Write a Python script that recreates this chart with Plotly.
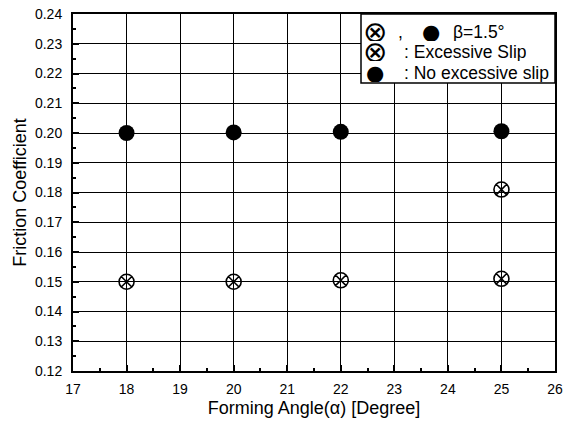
import plotly.graph_objects as go

angles_slip = [18, 20, 22, 25, 25]
coef_slip = [0.150, 0.150, 0.1505, 0.151, 0.181]
angles_noslip = [18, 20, 22, 25]
coef_noslip = [0.200, 0.2002, 0.2004, 0.2006]

x_ticks = list(range(17, 27))
y_ticks = [round(0.12 + 0.01 * i, 2) for i in range(13)]

legend_header = "β=1.5°"
legend_labels = [": Excessive Slip", ": No excessive slip"]

fig = go.Figure()
fig.add_trace(go.Scatter(
    x=angles_slip, y=coef_slip, mode="markers", name=legend_labels[0],
    marker=dict(symbol="circle-x-open", size=15, color="black", line=dict(width=1.6, color="black")),
))
fig.add_trace(go.Scatter(
    x=angles_noslip, y=coef_noslip, mode="markers", name=legend_labels[1],
    marker=dict(symbol="circle", size=16, color="black"),
))

axis_common = dict(
    showgrid=True, gridcolor="black", gridwidth=1,
    showline=True, linecolor="black", linewidth=2, mirror=True,
    ticks="inside", ticklen=6, tickcolor="black", tickwidth=1.5,
    minor=dict(ticks="inside", ticklen=3, tickcolor="black", showgrid=False),
    zeroline=False, automargin=False,
    tickfont=dict(size=14, color="black"),
)

def px_x(p):
    return (p - 73) / 482

def px_y(p):
    return (371 - p) / 357

SYM_FONT = "DejaVu Sans"
TXT_FONT = "Liberation Sans, Arial, sans-serif"
items = [
    # (text, px x, px y, size, anchor, family)
    ("⊗", 375, 31, 29, "center", SYM_FONT),
    (",", 400, 31, 17.5, "center", TXT_FONT),
    ("●", 431, 31, 21, "center", SYM_FONT),
    (legend_header, 452, 31, 17.5, "left", TXT_FONT),
    ("⊗", 375, 52, 29, "center", SYM_FONT),
    (legend_labels[0], 403, 52, 17.5, "left", TXT_FONT),
    ("●", 375, 73, 21, "center", SYM_FONT),
    (legend_labels[1], 403, 73, 17.5, "left", TXT_FONT),
]
annotations = [
    dict(text=t, x=px_x(x), y=px_y(y), xref="paper", yref="paper",
         xanchor=a, yanchor="middle", showarrow=False, height=19, borderpad=0,
         font=dict(size=s, color="black", family=f))
    for (t, x, y, s, a, f) in items
]

fig.update_layout(
    width=565, height=424,
    margin=dict(l=73, r=10, t=14, b=53),
    paper_bgcolor="white", plot_bgcolor="white",
    font=dict(family=TXT_FONT, color="black"),
    showlegend=False,
    xaxis=dict(range=[17, 26], tickvals=x_ticks, ticklabelstandoff=4,
               title=dict(text="Forming Angle(α) [Degree]", font=dict(size=18), standoff=6), **axis_common),
    yaxis=dict(range=[0.12, 0.24], tickvals=y_ticks, tickformat=".2f", ticklabelstandoff=6,
               title=dict(text="Friction Coefficient", font=dict(size=18), standoff=4), **axis_common),
    shapes=[dict(type="rect", xref="paper", yref="paper",
                 x0=px_x(361), x1=1, y0=px_y(83), y1=1,
                 line=dict(color="black", width=1.5), fillcolor="white", layer="above")],
    annotations=annotations,
)
fig.update_xaxes(minor=dict(dtick=0.5))
fig.update_yaxes(minor=dict(dtick=0.005))

fig.write_html("out.html", config={"displayModeBar": False},
               post_script="document.body.style.margin='0';document.body.style.padding='0';")
